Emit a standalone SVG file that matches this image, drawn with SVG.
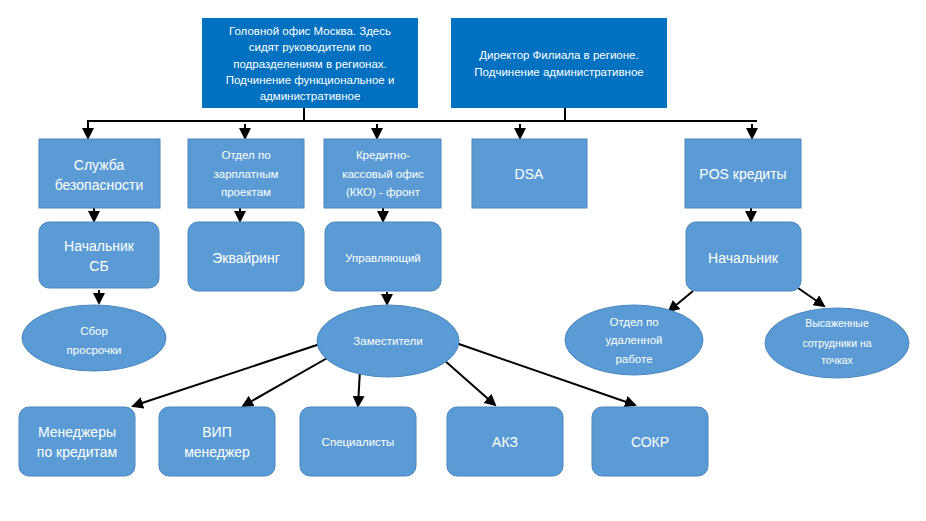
<svg xmlns="http://www.w3.org/2000/svg" width="926" height="521" viewBox="0 0 926 521">
<style>
.h{fill:#0070C0}
.n{fill:#5B9BD5;stroke:#4A86C0;stroke-width:1}
text{font-family:"Liberation Sans",Arial,sans-serif;fill:#fff;text-anchor:middle}
.s{font-size:11.5px}
.m{font-size:14px}
.c line,.c path{stroke:#000;stroke-width:2;fill:none}
.c .a{marker-end:url(#ar)}
</style>
<defs><marker id="ar" markerWidth="6" markerHeight="6" refX="5" refY="3" orient="auto" markerUnits="strokeWidth"><path d="M0,0 L6,3 L0,6 z" fill="#000"/></marker></defs>
<rect width="926" height="521" fill="#fff"/>
<g class="c">
<line x1="304" y1="108" x2="304" y2="121"/>
<line x1="565" y1="108" x2="565" y2="121"/>
<line x1="87" y1="121" x2="757" y2="121"/>
<line class="a" x1="88" y1="121" x2="88" y2="138"/>
<line class="a" x1="245" y1="124" x2="245" y2="138"/>
<line class="a" x1="377" y1="124" x2="377" y2="138"/>
<line class="a" x1="520" y1="124" x2="520" y2="138"/>
<line class="a" x1="752" y1="124" x2="752" y2="138"/>
<line class="a" x1="94" y1="208" x2="94" y2="221"/>
<line class="a" x1="240" y1="208" x2="240" y2="221"/>
<line class="a" x1="383" y1="208" x2="383" y2="221"/>
<line class="a" x1="751" y1="208" x2="751" y2="221"/>
<line class="a" x1="99" y1="290" x2="99" y2="303"/>
<line class="a" x1="387" y1="292" x2="387" y2="304"/>
<line class="a" x1="693" y1="291" x2="669" y2="311"/>
<line class="a" x1="798" y1="288" x2="824" y2="306"/>
<line class="a" x1="320" y1="344" x2="133" y2="406"/>
<line class="a" x1="329" y1="357" x2="243" y2="406"/>
<line class="a" x1="360" y1="370" x2="358" y2="406"/>
<line class="a" x1="444" y1="360" x2="495" y2="405"/>
<line class="a" x1="456" y1="343" x2="635" y2="405"/>
</g>
<g id="head"><rect class="h" x="202" y="18" width="216" height="90"/>
<text class="s" x="310" y="35">Головной офис Москва. Здесь</text>
<text class="s" x="310" y="51">сидят руководители по</text>
<text class="s" x="310" y="68">подразделениям в регионах.</text>
<text class="s" x="310" y="84">Подчинение функциональное и</text>
<text class="s" x="310" y="100">административное</text></g>
<g id="director"><rect class="h" x="451" y="18" width="216" height="90"/>
<text class="s" x="559" y="59">Директор Филиала в регионе.</text>
<text class="s" x="559" y="76">Подчинение административное</text></g>
<g id="sb"><rect class="n" x="39" y="139" width="121" height="69"/>
<text class="m" x="99" y="170">Служба</text><text class="m" x="99" y="190">безопасности</text></g>
<g id="zp"><rect class="n" x="188" y="139" width="116" height="69"/>
<text class="s" x="246" y="159">Отдел по</text><text class="s" x="246" y="178">зарплатным</text><text class="s" x="246" y="196">проектам</text></g>
<g id="kko"><rect class="n" x="324" y="139" width="117" height="69"/>
<text class="s" x="383" y="159">Кредитно-</text><text class="s" x="383" y="178">кассовый офис</text><text class="s" x="383" y="196">(ККО) - фронт</text></g>
<g id="dsa"><rect class="n" x="472" y="139" width="115" height="69"/>
<text class="m" x="529" y="179">DSA</text></g>
<g id="pos"><rect class="n" x="685" y="139" width="116" height="69"/>
<text class="m" x="743" y="179">POS кредиты</text></g>
<g id="nachsb"><rect class="n" x="39" y="222" width="120" height="66" rx="10"/>
<text class="m" x="99" y="251">Начальник</text><text class="m" x="99" y="271">СБ</text></g>
<g id="ekv"><rect class="n" x="188" y="222" width="116" height="69" rx="10"/>
<text class="m" x="246" y="263">Эквайринг</text></g>
<g id="upr"><rect class="n" x="325" y="222" width="116" height="69" rx="10"/>
<text class="s" x="383" y="262">Управляющий</text></g>
<g id="nachpos"><rect class="n" x="686" y="222" width="115" height="69" rx="10"/>
<text class="m" x="743" y="263">Начальник</text></g>
<g id="sbor"><ellipse class="n" cx="94" cy="338" rx="72" ry="33"/>
<text class="s" x="94" y="335">Сбор</text><text class="s" x="94" y="354">просрочки</text></g>
<g id="zam"><ellipse class="n" cx="388" cy="341" rx="71" ry="36"/>
<text class="s" x="388" y="345">Заместители</text></g>
<g id="udal"><ellipse class="n" cx="634" cy="340" rx="69" ry="35"/>
<text class="s" x="634" y="326">Отдел по</text><text class="s" x="634" y="344">удаленной</text><text class="s" x="634" y="363">работе</text></g>
<g id="vys"><ellipse class="n" cx="837" cy="343" rx="72" ry="35"/>
<text class="s" x="837" y="327" style="font-size:10.5px">Высаженные</text><text class="s" x="837" y="347" style="font-size:10.5px">сотрудники на</text><text class="s" x="837" y="364" style="font-size:10.5px">точках</text></g>
<g id="men"><rect class="n" x="19" y="407" width="116" height="69" rx="10"/>
<text class="m" x="77" y="437">Менеджеры</text><text class="m" x="77" y="457">по кредитам</text></g>
<g id="vip"><rect class="n" x="159" y="407" width="116" height="69" rx="10"/>
<text class="m" x="217" y="437">ВИП</text><text class="m" x="217" y="457">менеджер</text></g>
<g id="spec"><rect class="n" x="300" y="407" width="116" height="69" rx="10"/>
<text class="s" x="358" y="446">Специалисты</text></g>
<g id="akz"><rect class="n" x="447" y="407" width="116" height="69" rx="10"/>
<text class="m" x="505" y="447">АКЗ</text></g>
<g id="sokr"><rect class="n" x="592" y="407" width="116" height="69" rx="10"/>
<text class="m" x="650" y="447">СОКР</text></g>
</svg>
